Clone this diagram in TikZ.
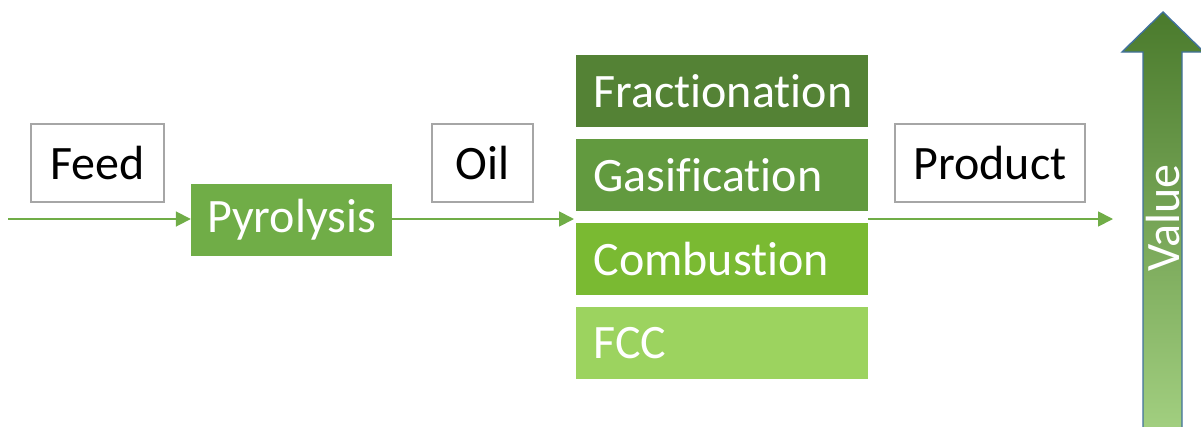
\documentclass[tikz,border=0pt]{standalone}
\usepackage{fontspec}
\setmainfont{Carlito}[Ligatures=NoCommon]
\usetikzlibrary{arrows.meta}
\definecolor{pyro}{HTML}{70AD47}
\definecolor{frac}{HTML}{548235}
\definecolor{gasi}{HTML}{629A3F}
\definecolor{comb}{HTML}{7ABA32}
\definecolor{fccc}{HTML}{9CD35F}
\definecolor{boxgray}{HTML}{A6A6A6}
\definecolor{arrowblue}{HTML}{41719C}
\definecolor{valtop}{HTML}{4A7A2C}
\definecolor{valmid}{HTML}{70AD47}
\definecolor{valbot}{HTML}{A2CF80}
\tikzset{
  bigfont/.style={font=\fontsize{48}{52}\selectfont},
  label box/.style={draw=boxgray, line width=1.6pt, fill=white, inner sep=0pt,
    bigfont, text=black},
  green box/.style={inner sep=0pt, bigfont, text=white},
  stack box/.style={inner xsep=18pt, inner ysep=0pt, minimum height=72pt,
    text width=256pt, align=left, bigfont, text=white},
  flow/.style={draw=pyro, line width=1.8pt, -{Triangle[length=15pt,width=15pt]}},
}
\begin{document}
\begin{tikzpicture}[x=1pt,y=-1pt]
\useasboundingbox (0,0) rectangle (1201,426);
% labels
\node[label box, minimum width=133pt, minimum height=78pt] (feed) at (97.5,163) {Feed};
\node[label box, minimum width=101pt, minimum height=78pt] (oil) at (482.5,163) {Oil};
\node[label box, minimum width=190pt, minimum height=78pt] (product) at (990,163) {Product};
% pyrolysis
\node[green box, fill=pyro, minimum width=201pt, minimum height=72pt] (pyro) at (291.5,220) {Pyrolysis};
% stack
\node[stack box, fill=frac] (frac) at (721.5,91) {Fractionation};
\node[stack box, fill=gasi] (gasi) at (721.5,175) {Gasification};
\node[stack box, fill=comb] (comb) at (721.5,259) {Combustion};
\node[stack box, fill=fccc] (fcc) at (721.5,343) {FCC};
% flow arrows
\coordinate (start) at (8,219);
\coordinate (stackin) at (574,219);
\coordinate (stackout) at (868,219);
\coordinate (end) at (1113,219);
\draw[flow] (start) -- (pyro.west |- start);
\draw[flow] (pyro.east |- start) -- (stackin);
\draw[flow] (stackout) -- (end);
% value arrow
\shade[top color=valtop, middle color=valmid, bottom color=valbot]
  (1143,430) -- (1143,52) -- (1122,52) -- (1163,12) -- (1204,52) -- (1182,52) -- (1182,430) -- cycle;
\draw[arrowblue, line width=1.4pt, line join=miter]
  (1143,430) -- (1143,52) -- (1122,52) -- (1163,12) -- (1204,52) -- (1182,52) -- (1182,430);
\node[rotate=90, text=white, bigfont, inner sep=0pt] (value) at (1163,218) {Value};
\end{tikzpicture}
\end{document}
